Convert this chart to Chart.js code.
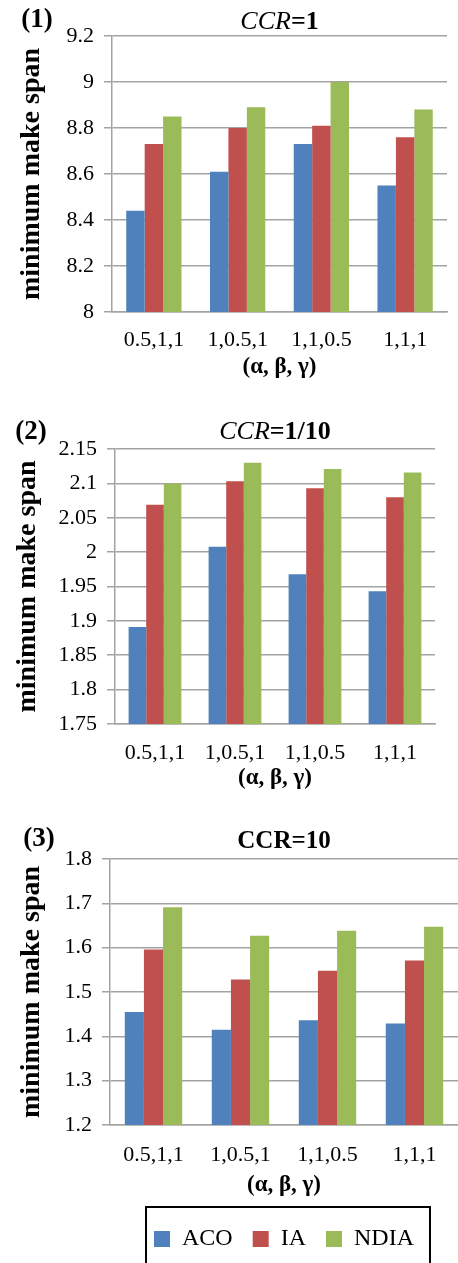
<!DOCTYPE html>
<html>
<head>
<meta charset="utf-8">
<script src="https://cdn.jsdelivr.net/npm/chart.js@4.4.0/dist/chart.umd.min.js"></script>
<style>
  body { margin: 0; background: #fff; width: 458px; height: 1263px; position: relative; overflow: hidden; }
  canvas { position: absolute; left: 0; }
</style>
</head>
<body>
<canvas id="c1" width="458" height="390" style="top:0px"></canvas>
<canvas id="c2" width="458" height="405" style="top:395px"></canvas>
<canvas id="c3" width="458" height="463" style="top:800px"></canvas>
<script>
const categories = ['0.5,1,1', '1,0.5,1', '1,1,0.5', '1,1,1'];
const seriesNames = ['ACO', 'IA', 'NDIA'];
const colors = ['#4F81BD', '#C0504D', '#9BBB59'];

// CCR = 1
const aco1 = [8.44, 8.61, 8.73, 8.55];
const ia1 = [8.73, 8.80, 8.81, 8.76];
const ndia1 = [8.85, 8.89, 9.00, 8.88];
const ticks1 = [8, 8.2, 8.4, 8.6, 8.8, 9, 9.2];

// CCR = 1/10
const aco2 = [1.891, 2.008, 1.968, 1.943];
const ia2 = [2.069, 2.103, 2.093, 2.080];
const ndia2 = [2.100, 2.130, 2.121, 2.116];
const ticks2 = [1.75, 1.8, 1.85, 1.9, 1.95, 2, 2.05, 2.1, 2.15];

// CCR = 10
const aco3 = [1.455, 1.415, 1.436, 1.429];
const ia3 = [1.596, 1.528, 1.548, 1.571];
const ndia3 = [1.691, 1.627, 1.638, 1.647];
const ticks3 = [1.2, 1.3, 1.4, 1.5, 1.6, 1.7, 1.8];

const serif = '"Liberation Serif", "Times New Roman", serif';
const gridColor = '#a3a3a3';

// panel tag "(n)", mixed-style title, and the box round the legend
const panelText = {
  id: 'panelText',
  afterDraw(chart, args, opts) {
    const ctx = chart.ctx;
    const area = chart.chartArea;
    ctx.save();
    ctx.fillStyle = '#000';
    ctx.textBaseline = 'middle';
    ctx.textAlign = 'center';
    ctx.font = 'bold 27px ' + serif;
    ctx.fillText(opts.tag, opts.tagX, opts.tagY);

    let total = 0;
    const parts = opts.title.map(p => {
      const font = (p.italic ? 'italic ' : 'bold ') + opts.titleSize + 'px ' + serif;
      ctx.font = font;
      const w = ctx.measureText(p.text).width;
      total += w;
      return { text: p.text, font: font, w: w };
    });
    let x = (area.left + area.right) / 2 - total / 2;
    ctx.textAlign = 'left';
    parts.forEach(p => {
      ctx.font = p.font;
      ctx.fillText(p.text, x, opts.titleY);
      x += p.w;
    });

    if (opts.legendBox && chart.legend && chart.legend.legendHitBoxes.length) {
      const hb = chart.legend.legendHitBoxes;
      const last = hb[hb.length - 1];
      const l = hb[0].left - 8;
      const r = last.left + last.width + 16;
      ctx.strokeStyle = '#000';
      ctx.lineWidth = 2;
      ctx.strokeRect(l, chart.legend.top, r - l, chart.height + 10 - chart.legend.top);
    }
    ctx.restore();
  }
};

function makeChart(id, data, ticks, cfg) {
  const datasets = data.map((d, i) => ({
    label: seriesNames[i],
    data: d,
    backgroundColor: colors[i],
    borderWidth: 0,
    categoryPercentage: 0.66,
    barPercentage: 1.0
  }));
  return new Chart(document.getElementById(id), {
    type: 'bar',
    data: { labels: categories, datasets: datasets },
    plugins: [panelText],
    options: {
      responsive: false,
      animation: false,
      devicePixelRatio: 1,
      layout: { padding: { top: cfg.padTop, right: cfg.padRight, bottom: cfg.padBottom || 0, left: 0 } },
      plugins: {
        title: { display: false },
        tooltip: { enabled: false },
        legend: {
          display: !!cfg.legend,
          position: 'bottom',
          fullSize: false,
          labels: {
            color: '#000',
            font: { family: serif, size: 24 },
            boxWidth: 16,
            boxHeight: 16,
            padding: 20
          }
        },
        panelText: {
          tag: cfg.tag, tagX: cfg.tagX, tagY: cfg.tagY,
          title: cfg.title, titleY: cfg.titleY, titleSize: cfg.titleSize,
          legendBox: !!cfg.legend
        }
      },
      scales: {
        x: {
          grid: { display: false },
          border: { display: true, color: gridColor, width: 1.5 },
          ticks: { color: '#000', font: { family: serif, size: 22 }, padding: cfg.xPad, maxRotation: 0 },
          title: {
            display: true,
            text: '(α, β, γ)',
            color: '#000',
            font: { family: serif, size: 23, weight: 'bold', lineHeight: 1.2 },
            padding: { top: 0, bottom: cfg.xTitlePad }
          },
          afterFit: s => { s.height = cfg.xHeight; }
        },
        y: {
          min: ticks[0],
          max: ticks[ticks.length - 1],
          afterBuildTicks: s => { s.ticks = ticks.map(v => ({ value: v })); },
          grid: { color: gridColor, lineWidth: 1.5, tickLength: 8, drawTicks: true },
          border: { display: true, color: gridColor, width: 1.5 },
          ticks: {
            color: '#000',
            font: { family: serif, size: 22 },
            padding: 10,
            callback: v => String(+v.toFixed(2))
          },
          title: {
            display: true,
            text: 'minimum make span',
            color: '#000',
            font: { family: serif, size: 28, weight: 'bold', lineHeight: 1.2 },
            padding: { top: cfg.yTitlePad, bottom: 0 }
          },
          afterFit: s => { s.width = cfg.yWidth; }
        }
      }
    }
  });
}

makeChart('c1', [aco1, ia1, ndia1], ticks1, {
  padTop: 36, padRight: 11, yWidth: 112, xHeight: 78,
  xPad: 7, xTitlePad: 9, yTitlePad: 15,
  tag: '(1)', tagX: 37, tagY: 20, titleY: 22, titleSize: 26,
  title: [{ text: 'CCR', italic: true }, { text: '=1' }]
});

makeChart('c2', [aco2, ia2, ndia2], ticks2, {
  padTop: 54, padRight: 23, yWidth: 115, xHeight: 76,
  xPad: 8, xTitlePad: 8, yTitlePad: 11,
  tag: '(2)', tagX: 31, tagY: 37, titleY: 37, titleSize: 26,
  title: [{ text: 'CCR', italic: true }, { text: '=1/10' }]
});

makeChart('c3', [aco3, ia3, ndia3], ticks3, {
  padTop: 59, padRight: 0, padBottom: 2, yWidth: 110, xHeight: 82,
  xPad: 9, xTitlePad: 8, yTitlePad: 15,
  tag: '(3)', tagX: 39, tagY: 39, titleY: 42, titleSize: 25,
  title: [{ text: 'CCR=10' }],
  legend: true
});
</script>
</body>
</html>
